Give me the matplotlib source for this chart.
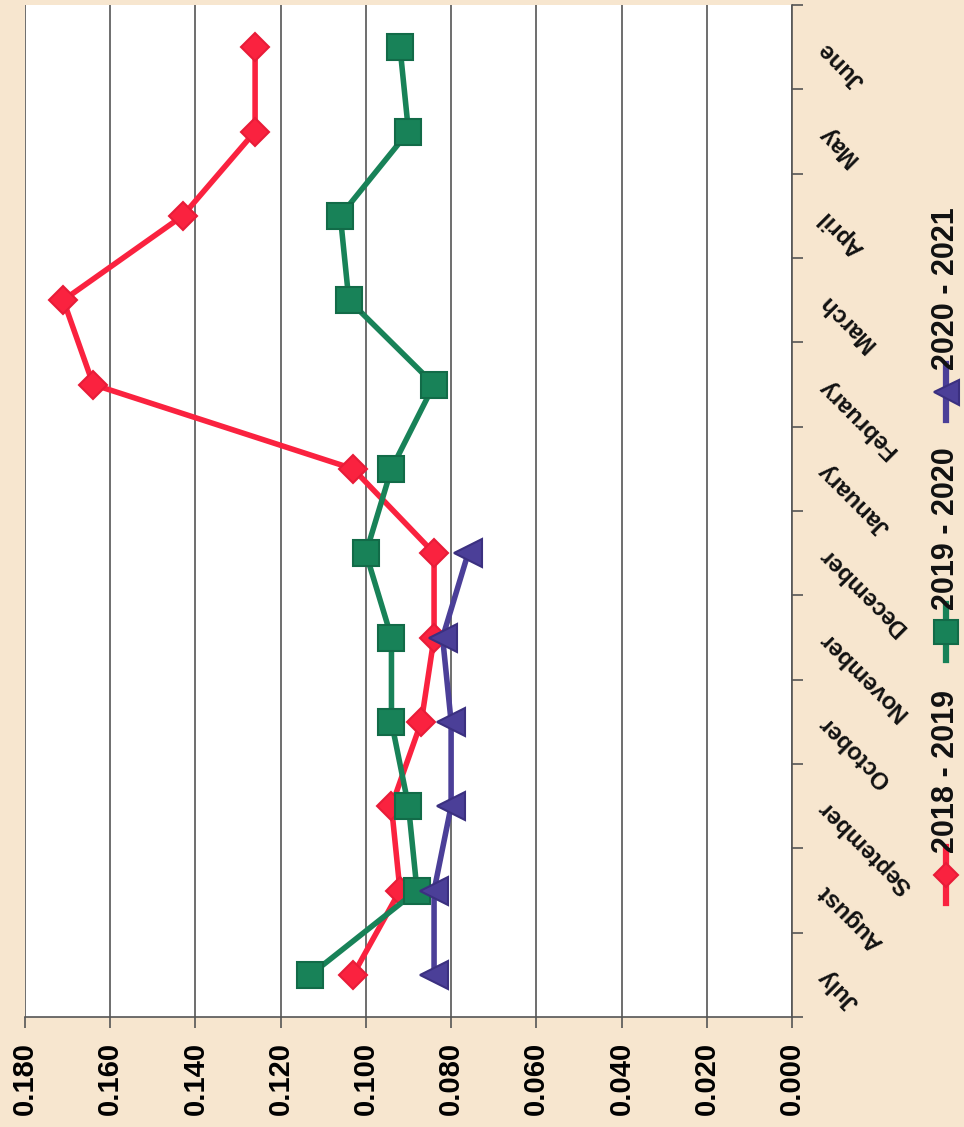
import matplotlib
matplotlib.use('Agg')
import matplotlib.pyplot as plt
import matplotlib.transforms as mtransforms
from matplotlib.lines import Line2D
import numpy as np

plt.rcParams['font.family'] = ['Liberation Sans', 'DejaVu Sans']
plt.rcParams['font.weight'] = 'bold'

# school-year months, July at the bottom of the (rotated) chart
months = ['July', 'August', 'September', 'October', 'November', 'December',
          'January', 'February', 'March', 'April', 'May', 'June']
s2018 = [0.103, 0.092, 0.094, 0.087, 0.084, 0.084,
         0.103, 0.164, 0.171, 0.143, 0.126, 0.126]
s2019 = [0.113, 0.088, 0.090, 0.094, 0.094, 0.100,
         0.094, 0.084, 0.104, 0.106, 0.090, 0.092]
s2020 = [0.084, 0.084, 0.080, 0.080, 0.082, 0.076,
         np.nan, np.nan, np.nan, np.nan, np.nan, np.nan]
names = ['2018 - 2019', '2019 - 2020', '2020 - 2021']
colors = ['#fa223f', '#188258', '#4b3f98']
edges = ['#e81c38', '#126b48', '#3b3080']
markers = ['D', 's', '<']
msizes = [14, 19, 20]
xticks = [0.000, 0.020, 0.040, 0.060, 0.080, 0.100, 0.120, 0.140, 0.160, 0.180]

fig = plt.figure(figsize=(9.64, 11.27), dpi=100)
fig.patch.set_facecolor('#f7e6cf')
ax = fig.add_axes([25 / 964, 1 - 1017 / 1127, (792 - 25) / 964, (1017 - 5) / 1127])
ax.set_facecolor('white')

pos = np.arange(len(months))
for vals, c, e, m, ms in zip([s2018, s2019, s2020], colors, edges, markers, msizes):
    ax.plot(vals, pos, color=c, lw=4, marker=m, ms=ms, mfc=c, mec=e, mew=1.5,
            solid_joinstyle='round', zorder=3)

ax.set_xlim(0.18, 0.0)
ax.set_ylim(-0.5, len(months) - 0.5)
ax.set_xticks(xticks)
ax.set_xticklabels(['%.3f' % v for v in xticks], rotation=90, fontsize=21,
                   fontweight='bold')
ax.tick_params(axis='x', length=8, width=1.2, color='#555555', pad=10)
ax.grid(axis='x', color='#555555', lw=1.2)
ax.set_axisbelow(True)

ax.yaxis.tick_right()
ax.set_yticks(np.arange(-0.5, len(months), 1.0))
ax.set_yticklabels([])
ax.tick_params(axis='y', length=8, width=1.2, color='#555555')

for side in ['left', 'top']:
    ax.spines[side].set_visible(False)
for side in ['right', 'bottom']:
    ax.spines[side].set_color('#555555')
    ax.spines[side].set_linewidth(1.2)

# month labels, rotated like the scanned page
lab_tr = mtransforms.blended_transform_factory(ax.transAxes, ax.transData)
lab_tr = lab_tr + mtransforms.ScaledTranslation(30 / 100, 2 / 100, fig.dpi_scale_trans)
for p, name in zip(pos, months):
    ax.text(1.0, p, name, transform=lab_tr, rotation=135, rotation_mode='anchor',
            ha='right', va='center', fontsize=17, fontweight='bold', color='#111111')

# legend drawn sideways along the right edge
leg_y = [875, 632, 392]
for y, name, c, e, m, ms in zip(leg_y, names, colors, edges, markers, msizes):
    yf = 1 - y / 1127
    xf = 946 / 964
    fig.add_artist(Line2D([xf, xf], [yf - 28 / 1127, yf + 28 / 1127],
                          transform=fig.transFigure, color=c, lw=4.5))
    fig.add_artist(Line2D([xf], [yf], transform=fig.transFigure, color=c,
                          marker=m, ms=ms * 0.9, mfc=c, mec=e, mew=1.5))
    fig.text(xf, yf + 22 / 1127, name, rotation=90, ha='center', va='bottom',
             fontsize=22, fontweight='bold', color='#111111')

fig.savefig('out.png', dpi=100, facecolor=fig.get_facecolor())
